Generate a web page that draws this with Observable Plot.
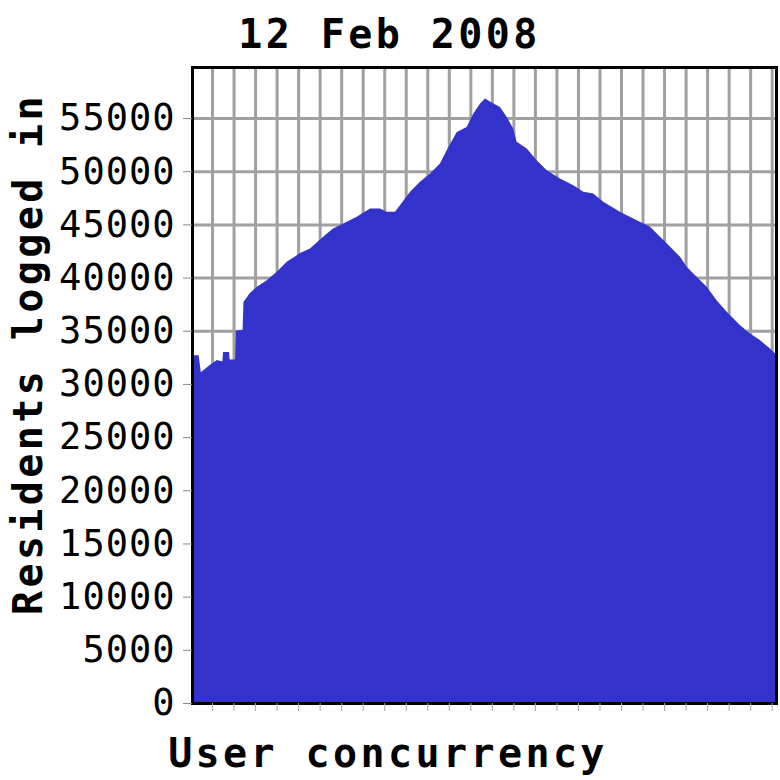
<!DOCTYPE html>
<html>
<head>
<meta charset="utf-8">
<script src="https://cdn.jsdelivr.net/npm/d3@7"></script>
<script src="https://cdn.jsdelivr.net/npm/@observablehq/plot@0.6"></script>
<style>
  html, body { margin: 0; padding: 0; background: #fff; }
</style>
</head>
<body>
<div id="chart"></div>
<script>
// time position in grid units (one unit per vertical grid line)
const hours = [
  -0.93, -0.62, -0.52, -0.09, 0.22, 0.48, 0.51, 0.79, 0.82, 1.07, 1.10, 1.42, 1.46,
  1.76, 2.08, 2.54, 3.01, 3.47, 4.09, 4.55, 5.16, 5.62, 6.26, 6.72, 7.34, 7.80,
  8.11, 8.50, 8.73, 9.20, 9.66, 10.13, 10.59, 10.90, 11.37, 11.83, 12.14, 12.45,
  12.68, 13.07, 13.38, 13.69, 13.99, 14.15, 14.62, 15.08, 15.55, 16.16, 16.78,
  17.25, 17.71, 18.17, 18.95, 19.73, 20.35, 20.81, 21.28, 21.74, 22.05, 22.51,
  22.98, 23.44, 23.91, 24.52, 24.99, 25.45, 25.92, 26.20
];
const residents = [
  32700, 32700, 31100, 31800, 32250, 32100, 33000, 33000, 32300, 32300, 35000, 35100, 37700,
  38540, 39130, 39760, 40540, 41480, 42300, 42740, 43830, 44620, 45240, 45710, 46500, 46500,
  46180, 46180, 46810, 48060, 49000, 49790, 50730, 51980, 53700, 54170, 55430, 56370,
  56840, 56370, 56050, 55110, 54020, 52760, 52140, 51040, 50100, 49320, 48690,
  48060, 47910, 47120, 46180, 45400, 44770, 43830, 42890, 41950, 41010, 40070,
  39130, 37880, 36780, 35530, 34750, 34120, 33340, 32800
];
const xTicks = d3.range(0, 27);
const yTicks = [0, 5000, 10000, 15000, 20000, 25000, 30000, 35000, 40000, 45000, 50000, 55000];
const titleText = "12 Feb 2008";
const xLabel = "User concurrency";
const yLabel = "Residents logged in";

const data = hours.map((h, i) => ({x: h, v: residents[i]}));

const boldFont = {fontSize: 40, fontWeight: "bold", fontFamily: "DejaVu Sans Mono", fill: "black"};

const chart = Plot.plot({
  width: 780,
  height: 780,
  marginLeft: 192,
  marginRight: 4,
  marginTop: 67,
  marginBottom: 77,
  style: {fontFamily: "DejaVu Sans Mono", fontSize: "37px", background: "#fff", color: "black"},
  x: {domain: [-0.93, 26.2]},
  y: {domain: [0, 59800]},
  marks: [
    Plot.ruleX(xTicks, {x: d => d, stroke: "#a0a0a0", strokeWidth: 3}),
    Plot.ruleY(yTicks.filter(d => d > 0), {y: d => d, stroke: "#a0a0a0", strokeWidth: 3}),
    Plot.areaY(data, {x: "x", y: "v", fill: "#3333cc"}),
    Plot.frame({stroke: "black", strokeWidth: 3}),
    Plot.axisY({ticks: yTicks, tickSize: 9, tickPadding: 8, stroke: "#888", fill: "black", label: null, tickFormat: d3.format("d"), fontSize: 37, fontFamily: "DejaVu Sans Mono"}),
    Plot.axisX({ticks: xTicks, tickSize: 8, tickPadding: 0, stroke: "#aaa", tickFormat: () => "", label: null}),
    Plot.text([titleText], {text: d => d, frameAnchor: "top", textAnchor: "middle", dx: -95, dy: -20, lineAnchor: "bottom", ...boldFont}),
    Plot.text([xLabel], {text: d => d, frameAnchor: "bottom", textAnchor: "middle", dx: -96.5, dy: 63, lineAnchor: "bottom", ...boldFont}),
    Plot.text([yLabel], {text: d => d, frameAnchor: "left", textAnchor: "middle", rotate: -90, dx: -151, dy: -31.5, lineAnchor: "bottom", ...boldFont})
  ]
});

document.getElementById("chart").appendChild(chart);

// letter spacing to mimic the wide bitmap font
chart.querySelectorAll("g").forEach(g => {
  if (g.getAttribute("font-weight") === "bold") g.style.letterSpacing = "3.4px";
});
chart.querySelectorAll('g[aria-label="y-axis tick label"]').forEach(g => g.style.letterSpacing = "1px");
</script>
</body>
</html>
